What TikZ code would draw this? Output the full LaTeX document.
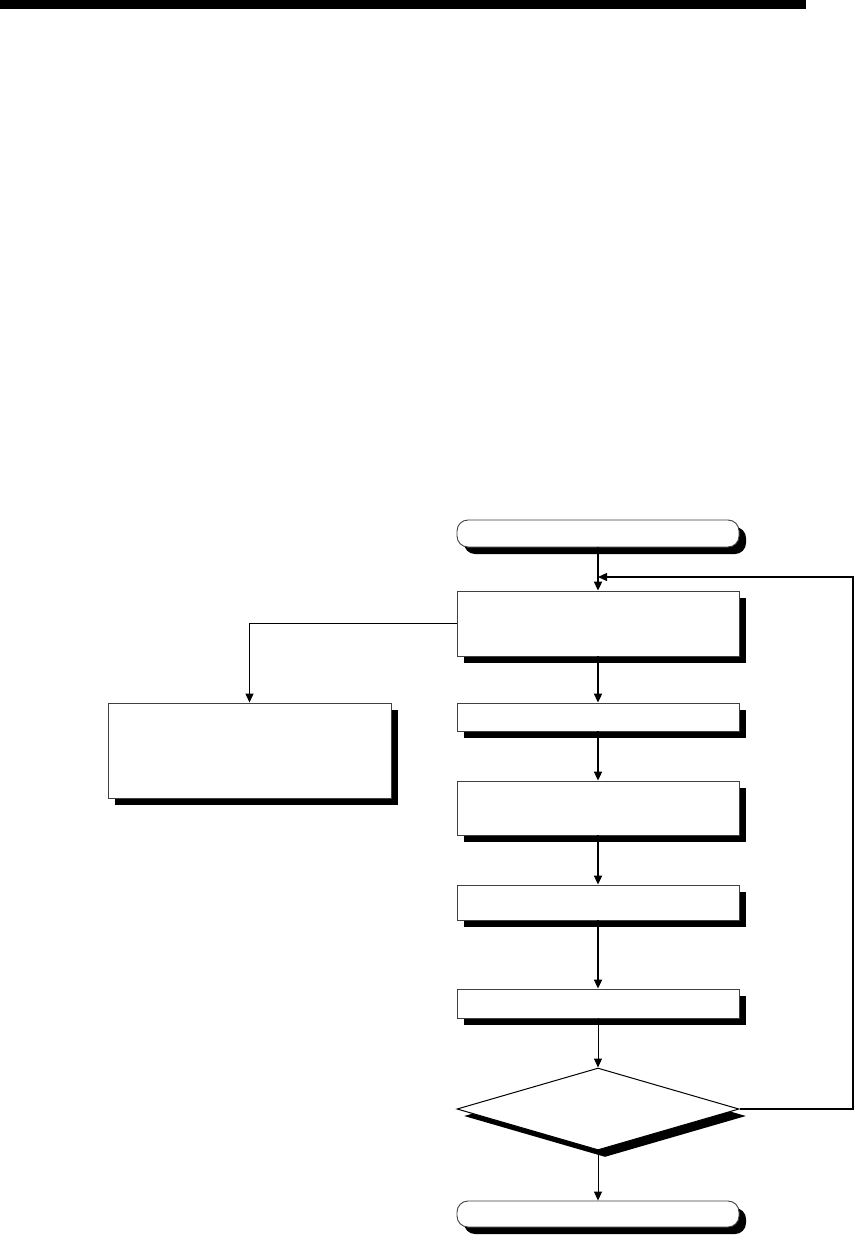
\documentclass[tikz,border=0pt]{standalone}
\usetikzlibrary{shapes.geometric,shadows,arrows.meta}
\begin{document}
\begin{tikzpicture}[x=1pt,y=-1pt,
  shad/.style={drop shadow={shadow xshift=7pt,shadow yshift=-7pt,fill=black,opacity=1}},
  procbox/.style={draw=black!75,line width=0.9pt,fill=white,inner sep=0pt,minimum width=282pt,shad},
  termbox/.style={procbox,rounded corners=11pt},
  decbox/.style={diamond,draw=black,line width=1pt,fill=white,inner sep=0pt,minimum width=282pt,minimum height=82pt,shad},
  thick arrow/.style={line width=2pt,-{Triangle[length=9pt,width=8pt]}},
  thin arrow/.style={line width=1pt,-{Triangle[length=9pt,width=8pt]}},
  loop arrow/.style={line width=1.3pt,-{Triangle[length=9pt,width=8pt]}}]
\useasboundingbox (0,0) rectangle (855,1236);
\fill[black] (0,0) rectangle (806,9);
\node[termbox,minimum height=27pt] (start) at (598,533.5) {};
\node[procbox,minimum height=65pt] (b1) at (598,623.5) {};
\node[procbox,minimum width=283pt,minimum height=95pt] (left) at (249.5,750.5) {};
\node[procbox,minimum height=28pt] (b2) at (598,717) {};
\node[procbox,minimum height=54pt] (b3) at (598,808) {};
\node[procbox,minimum height=35pt] (b4) at (598,902.5) {};
\node[procbox,minimum height=29pt] (b5) at (598,1003.5) {};
\node[decbox] (dec) at (598,1109) {};
\node[termbox,minimum height=26pt] (end) at (598,1214) {};
\coordinate (rc) at (853,577);
\coordinate (lp) at (598,577);
\draw[thick arrow] (start) -- (b1);
\draw[thick arrow] (b1) -- (b2);
\draw[thick arrow] (b2) -- (b3);
\draw[thick arrow] (b3) -- (b4);
\draw[thick arrow] (b4) -- (b5);
\draw[thin arrow] (b5) -- (dec);
\draw[thin arrow] (dec) -- (end);
\draw[thin arrow] (b1.west) -| (left.north);
\draw[loop arrow] (dec.east) -| (rc) -- (lp);
\end{tikzpicture}
\end{document}
